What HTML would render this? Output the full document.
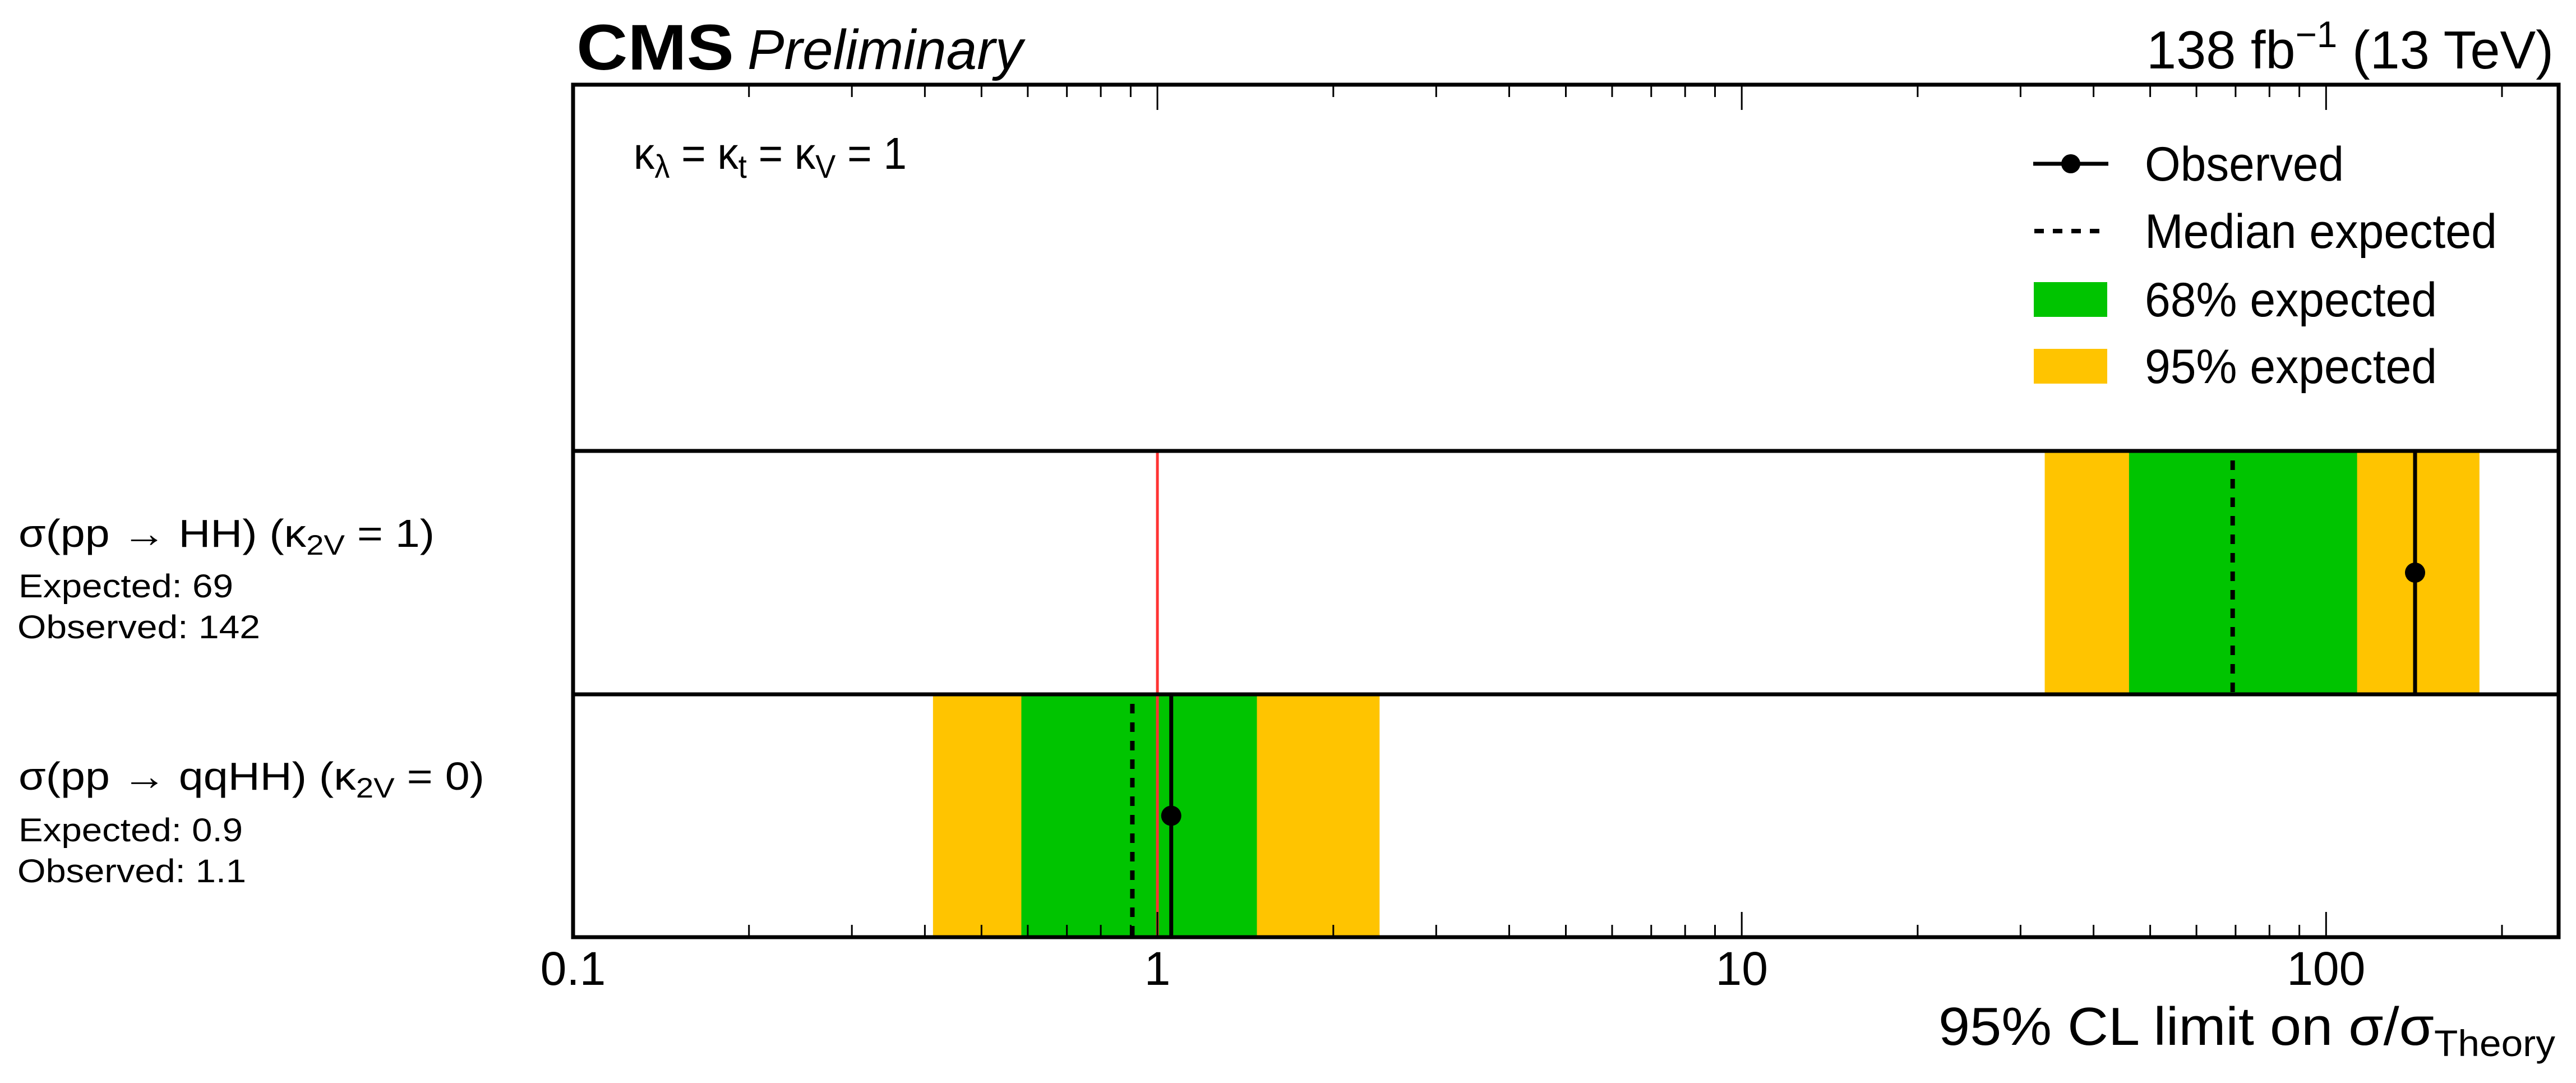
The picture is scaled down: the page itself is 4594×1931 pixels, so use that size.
<!DOCTYPE html>
<html><head><meta charset="utf-8"><style>
html,body{margin:0;padding:0;background:#fff;}
svg{display:block;font-family:"Liberation Sans",Arial,sans-serif;}
</style></head><body>
<svg id="chart" xmlns="http://www.w3.org/2000/svg" width="4594" height="1931" viewBox="0 0 4594 1931">
<g id="bands"></g>
<g id="marks"></g>
<g id="frame"></g>
<text x="1028" y="124" font-size="115" font-weight="bold" textLength="281" lengthAdjust="spacingAndGlyphs">CMS</text>
<text x="1333" y="123" font-size="100" font-style="italic" textLength="491" lengthAdjust="spacingAndGlyphs">Preliminary</text>
<text x="3828" y="122" font-size="96" textLength="726" lengthAdjust="spacingAndGlyphs">138 fb<tspan dy="-38" font-size="66">−1</tspan><tspan dy="38"> (13 TeV)</tspan></text>
<text x="1130" y="301" font-size="80" textLength="487" lengthAdjust="spacingAndGlyphs">κ<tspan dy="16" font-size="58">λ</tspan><tspan dy="-16"> = κ</tspan><tspan dy="16" font-size="58">t</tspan><tspan dy="-16"> = κ</tspan><tspan dy="16" font-size="58">V</tspan><tspan dy="-16"> = 1</tspan></text>
<g>
 <g>
  <line x1="3626" y1="292" x2="3760" y2="292" stroke="#000" stroke-width="7"/>
  <circle cx="3693" cy="292" r="17" fill="#000"/>
  <text x="3825" y="322" font-size="86" textLength="355" lengthAdjust="spacingAndGlyphs">Observed</text>
 </g>
 <g>
  <line x1="3628" y1="412" x2="3760" y2="412" stroke="#000" stroke-width="8" stroke-dasharray="17,16"/>
  <text x="3825" y="442" font-size="86" textLength="628" lengthAdjust="spacingAndGlyphs">Median expected</text>
 </g>
 <g>
  <rect x="3627" y="503" width="131" height="62" fill="#00c400"/>
  <text x="3825" y="564" font-size="86" textLength="521" lengthAdjust="spacingAndGlyphs">68% expected</text>
 </g>
 <g>
  <rect x="3627" y="622" width="131" height="62" fill="#ffc400"/>
  <text x="3825" y="683" font-size="86" textLength="521" lengthAdjust="spacingAndGlyphs">95% expected</text>
 </g>
</g>
<g>
 <text x="33" y="975" font-size="70" textLength="742" lengthAdjust="spacingAndGlyphs">σ(pp → HH) (κ<tspan dy="14" font-size="50">2V</tspan><tspan dy="-14"> = 1)</tspan></text>
 <text x="33" y="1065" font-size="58" textLength="383" lengthAdjust="spacingAndGlyphs">Expected: 69</text>
 <text x="31" y="1138" font-size="58" textLength="433" lengthAdjust="spacingAndGlyphs">Observed: 142</text>
</g>
<g>
 <text x="33" y="1408" font-size="70" textLength="831" lengthAdjust="spacingAndGlyphs">σ(pp → qqHH) (κ<tspan dy="14" font-size="50">2V</tspan><tspan dy="-14"> = 0)</tspan></text>
 <text x="33" y="1500" font-size="58" textLength="400" lengthAdjust="spacingAndGlyphs">Expected: 0.9</text>
 <text x="31" y="1573" font-size="58" textLength="408" lengthAdjust="spacingAndGlyphs">Observed: 1.1</text>
</g>
<text x="4557" y="1863" font-size="96" text-anchor="end" textLength="1100" lengthAdjust="spacingAndGlyphs">95% CL limit on σ/σ<tspan dy="20" font-size="66">Theory</tspan></text>
<g id="ticklabels"></g>
</svg>
<script>
const categories = ["HH (k2V=1)", "qqHH (k2V=0)"];
const lo95 = [33.0, 0.413];
const lo68 = [46.0, 0.585];
const hi68 = [113, 1.48];
const hi95 = [183, 2.40];
const medianExp = [69.2, 0.906];
const observed = [142, 1.056];
const tickValues = [0.1, 1, 10, 100];
const tickLabels = ["0.1", "1", "10", "100"];
const theoryRef = [1];

const NS = "http://www.w3.org/2000/svg";
const X0 = 1022, X1 = 4563, XMIN = 0.1, XMAX = 250;
function xs(v){ return X0 + (Math.log10(v) - Math.log10(XMIN)) / (Math.log10(XMAX) - Math.log10(XMIN)) * (X1 - X0); }
const rowTop = [804, 1238], rowBot = [1238, 1671];
function mk(tag, attrs, parent){ const e = document.createElementNS(NS, tag); for (const k in attrs) e.setAttribute(k, attrs[k]); parent.appendChild(e); return e; }
const bands = document.getElementById('bands'), marks = document.getElementById('marks'), frame = document.getElementById('frame'), tl = document.getElementById('ticklabels');

categories.forEach((c, i) => {
  const t = rowTop[i] + 3, b = rowBot[i] - 3;
  const y95 = mk('rect', {x: xs(lo95[i]), y: t, width: xs(hi95[i]) - xs(lo95[i]), height: b - t, fill: '#ffc400'}, bands);
  
  
  const g68 = mk('rect', {x: xs(lo68[i]), y: t, width: xs(hi68[i]) - xs(lo68[i]), height: b - t, fill: '#00c400'}, bands);
  
  
  const med = mk('line', {x1: xs(medianExp[i]), x2: xs(medianExp[i]), y1: rowTop[i] + 17, y2: rowBot[i], stroke: '#000', 'stroke-width': 8, 'stroke-dasharray': '17,16'}, marks);
  
  
});
theoryRef.forEach(v => {
  const r = mk('line', {x1: xs(v), x2: xs(v), y1: 804, y2: 1671, stroke: '#ff3333', 'stroke-width': 5}, marks);
  
  
});
categories.forEach((c, i) => {
  const ol = mk('line', {x1: xs(observed[i]), x2: xs(observed[i]), y1: rowTop[i], y2: rowBot[i], stroke: '#000', 'stroke-width': 7}, marks);
  
  
  const dot = mk('circle', {cx: xs(observed[i]), cy: (rowTop[i] + rowBot[i]) / 2, r: 18, fill: '#000'}, marks);
  
  
});
const fr = mk('rect', {x: 1022, y: 151, width: 3541, height: 1520, fill: 'none', stroke: '#000', 'stroke-width': 7}, frame);


[804, 1238].forEach((y, i) => {
  const d = mk('line', {x1: 1022, x2: 4563, y1: y, y2: y, stroke: '#000', 'stroke-width': 7}, frame);
  
  
});
for (let dec = -1; dec <= 2; dec++) {
  for (let m = 1; m <= 9; m++) {
    const v = m * Math.pow(10, dec);
    if (v < XMIN || v > XMAX) continue;
    const len = m === 1 ? 45 : 22;
    const tb = mk('line', {x1: xs(v), x2: xs(v), y1: 1671, y2: 1671 - len, stroke: '#000', 'stroke-width': 3}, frame);
    
    
    const tt = mk('line', {x1: xs(v), x2: xs(v), y1: 151, y2: 151 + len, stroke: '#000', 'stroke-width': 3}, frame);
    
    
  }
}
tickValues.forEach((v, i) => {
  const t = mk('text', {x: xs(v), y: 1756, 'font-size': 84, 'text-anchor': 'middle'}, tl);
  
  
  t.textContent = tickLabels[i];
});
</script>
</body></html>
